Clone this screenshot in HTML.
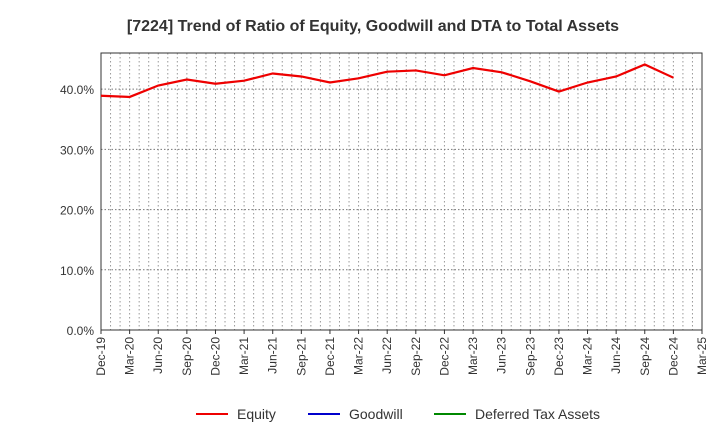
<!DOCTYPE html>
<html><head><meta charset="utf-8"><style>
body{margin:0;background:#fff;font-family:"Liberation Sans",sans-serif}
</style></head><body>
<svg id="c" width="720" height="440" xmlns="http://www.w3.org/2000/svg">
<text x="373" y="31" text-anchor="middle" font-size="16" font-weight="bold" fill="#333">[7224]  Trend of Ratio of Equity, Goodwill and DTA to Total Assets</text>
<g id="grid"></g><g id="axes"></g><g id="series"></g>
<g>
<line x1="196" y1="414" x2="228" y2="414" stroke="#e00" stroke-width="2"/>
<text x="237" y="419" font-size="14" fill="#333">Equity</text>
<line x1="308" y1="414" x2="340" y2="414" stroke="#00c" stroke-width="2"/>
<text x="349" y="419" font-size="14" fill="#333">Goodwill</text>
<line x1="434" y1="414" x2="466" y2="414" stroke="#080" stroke-width="2"/>
<text x="475" y="419" font-size="14" fill="#333">Deferred Tax Assets</text>
</g>
</svg>
<script>
const xLabels=["Dec-19","Mar-20","Jun-20","Sep-20","Dec-20","Mar-21","Jun-21","Sep-21","Dec-21","Mar-22","Jun-22","Sep-22","Dec-22","Mar-23","Jun-23","Sep-23","Dec-23","Mar-24","Jun-24","Sep-24","Dec-24","Mar-25"];
const equity=[38.9,38.7,40.6,41.6,40.9,41.4,42.6,42.1,41.1,41.8,42.9,43.1,42.3,43.5,42.8,41.3,39.6,41.1,42.1,44.1,41.9];
const yTicks=[0,10,20,30,40];
const L=101,R=702,T=53,B=330,yMax=46;
const NS="http://www.w3.org/2000/svg";
const nQ=xLabels.length-1;
function xq(i){return L+(R-L)*i/nQ;}
function y(v){return B-(B-T)*v/yMax;}
function mk(t,a,p){const e=document.createElementNS(NS,t);for(const k in a)e.setAttribute(k,a[k]);p.appendChild(e);return e;}
const g=document.getElementById('grid'),ax=document.getElementById('axes'),s=document.getElementById('series');
for(let m=1;m<nQ*3;m++){const x=L+(R-L)*m/(nQ*3);
const l=mk('line',{x1:x,x2:x,y1:T,y2:B,stroke:'#999','stroke-dasharray':'1.5,2.5','stroke-width':1},g);

}
yTicks.forEach(v=>{if(v>0){const l=mk('line',{x1:L,x2:R,y1:y(v),y2:y(v),stroke:'#777','stroke-dasharray':'1.5,2','stroke-width':1},g);

}
const t=mk('text',{x:L-7,y:y(v)+5,'text-anchor':'end','font-size':12,fill:'#333'},ax);t.textContent=v.toFixed(1)+'%';

});
const fr=mk('rect',{x:L,y:T,width:R-L,height:B-T,fill:'none',stroke:'#333','stroke-width':1},ax);


xLabels.forEach((lb,i)=>{const x=xq(i);mk('line',{x1:x,x2:x,y1:B,y2:B+4,stroke:'#333'},ax);
const t=mk('text',{transform:`translate(${x+4},${B+7}) rotate(-90)`,'text-anchor':'end','font-size':12,fill:'#333'},ax);t.textContent=lb;

});
const p=mk('polyline',{points:equity.map((v,i)=>xq(i)+','+y(v)).join(' '),fill:'none',stroke:'#e00','stroke-width':2.2},s);


</script>
</body></html>
